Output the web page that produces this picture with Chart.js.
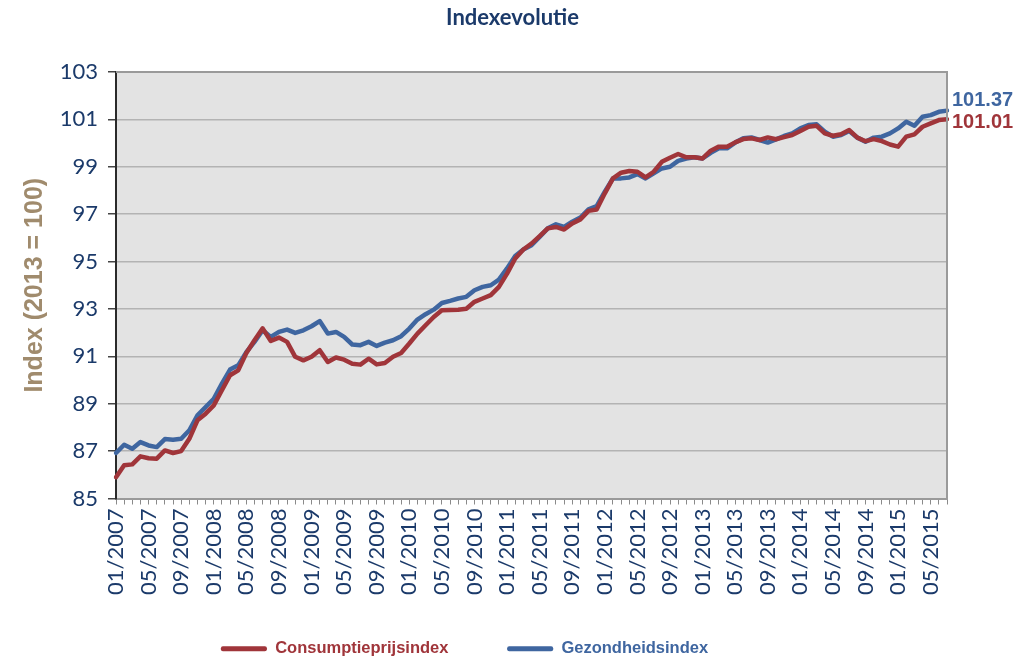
<!DOCTYPE html>
<html><head><meta charset="utf-8">
<script src="https://cdn.jsdelivr.net/npm/chart.js@4.4.1/dist/chart.umd.min.js"></script>
<style>html,body{margin:0;padding:0;background:#fff}#wrap{width:1024px;height:669px}</style>
</head><body><div id="wrap"><canvas id="c" width="1024" height="669"></canvas></div>
<script>
const months = [
'01/2007','02/2007','03/2007','04/2007','05/2007','06/2007','07/2007','08/2007','09/2007','10/2007','11/2007','12/2007',
'01/2008','02/2008','03/2008','04/2008','05/2008','06/2008','07/2008','08/2008','09/2008','10/2008','11/2008','12/2008',
'01/2009','02/2009','03/2009','04/2009','05/2009','06/2009','07/2009','08/2009','09/2009','10/2009','11/2009','12/2009',
'01/2010','02/2010','03/2010','04/2010','05/2010','06/2010','07/2010','08/2010','09/2010','10/2010','11/2010','12/2010',
'01/2011','02/2011','03/2011','04/2011','05/2011','06/2011','07/2011','08/2011','09/2011','10/2011','11/2011','12/2011',
'01/2012','02/2012','03/2012','04/2012','05/2012','06/2012','07/2012','08/2012','09/2012','10/2012','11/2012','12/2012',
'01/2013','02/2013','03/2013','04/2013','05/2013','06/2013','07/2013','08/2013','09/2013','10/2013','11/2013','12/2013',
'01/2014','02/2014','03/2014','04/2014','05/2014','06/2014','07/2014','08/2014','09/2014','10/2014','11/2014','12/2014',
'01/2015','02/2015','03/2015','04/2015','05/2015','06/2015','07/2015'];

const consumptieprijsindex = [
85.90,86.40,86.44,86.78,86.70,86.68,87.03,86.92,87.00,87.52,88.30,88.58,
88.93,89.57,90.20,90.41,91.14,91.68,92.18,91.65,91.79,91.61,90.98,90.83,
90.98,91.26,90.76,90.95,90.86,90.69,90.65,90.90,90.66,90.72,90.98,91.14,
91.54,91.96,92.31,92.66,92.94,92.96,92.97,93.01,93.30,93.44,93.58,93.93,
94.49,95.13,95.51,95.76,96.07,96.40,96.46,96.35,96.61,96.78,97.14,97.20,
97.88,98.51,98.75,98.82,98.79,98.55,98.79,99.21,99.38,99.54,99.40,99.40,
99.35,99.68,99.85,99.85,100.03,100.17,100.20,100.13,100.24,100.16,100.25,100.34,
100.51,100.69,100.73,100.41,100.31,100.37,100.55,100.23,100.08,100.17,100.08,99.94,
99.85,100.27,100.37,100.69,100.83,100.97,101.01];

const gezondheidsindex = [
86.92,87.27,87.10,87.38,87.24,87.17,87.51,87.48,87.52,87.88,88.51,88.86,
89.21,89.85,90.44,90.62,91.18,91.61,92.10,91.82,92.03,92.13,91.99,92.10,
92.27,92.49,91.96,92.03,91.82,91.50,91.47,91.61,91.44,91.58,91.68,91.85,
92.17,92.55,92.78,92.97,93.25,93.34,93.44,93.51,93.79,93.93,94.00,94.24,
94.71,95.23,95.51,95.69,96.04,96.40,96.57,96.46,96.68,96.86,97.20,97.34,
97.95,98.51,98.51,98.55,98.69,98.51,98.72,98.93,99.00,99.25,99.35,99.40,
99.35,99.59,99.78,99.78,100.02,100.20,100.24,100.13,100.02,100.16,100.30,100.41,
100.62,100.76,100.79,100.48,100.27,100.34,100.51,100.23,100.06,100.23,100.27,100.41,
100.62,100.90,100.73,101.11,101.18,101.32,101.37];

const seriesNames = ['Consumptieprijsindex','Gezondheidsindex'];
const endLabels = ['101.01','101.37'];
const yMin = 85, yMax = 103, yStep = 2;

const RED = '#a0353a', BLUE = '#3f66a0';
const NAVY = '#1b3a6a', TAN = '#a08b6d';

const bgPlugin = {
  id: 'plotBg',
  beforeDraw(chart) {
    const {ctx, chartArea: a} = chart;
    ctx.save();
    ctx.fillStyle = '#e3e3e3';
    ctx.fillRect(a.left, a.top, a.right - a.left, a.bottom - a.top);
    ctx.restore();
  },
  afterDraw(chart) {
    const {ctx, chartArea: a} = chart;
    ctx.save();
    ctx.strokeStyle = '#9a9a9a';
    ctx.lineWidth = 2;
    ctx.beginPath();
    ctx.moveTo(a.left, a.top); ctx.lineTo(a.right, a.top); ctx.lineTo(a.right, a.bottom);
    ctx.stroke();
    ctx.restore();
  }
};

const endLabelPlugin = {
  id: 'endLabels',
  afterDatasetsDraw(chart) {
    const {ctx, chartArea: a} = chart;
    const offs = [3, -10];
    ctx.save();
    ctx.font = 'bold 20px "Liberation Sans", Arial, sans-serif';
    ctx.textBaseline = 'middle';
    ctx.textAlign = 'left';
    chart.data.datasets.forEach((ds, i) => {
      const meta = chart.getDatasetMeta(i);
      const pt = meta.data[meta.data.length - 1];
      ctx.fillStyle = ds.borderColor;
      ctx.fillText(endLabels[i], a.right + 5, pt.y + offs[i]);
    });
    ctx.restore();
  }
};

const boxShift = {
  id: 'boxShift',
  afterLayout(chart) {
    if (chart.legend) { chart.legend.left -= 9; chart.legend.right -= 9; }
    if (chart.titleBlock) { chart.titleBlock.left += 39; chart.titleBlock.right += 39; }
  }
};

new Chart(document.getElementById('c'), {
  type: 'line',
  data: {
    labels: months,
    datasets: [
      {label: seriesNames[0], data: consumptieprijsindex, borderColor: RED, backgroundColor: RED,
       borderWidth: 4.5, pointRadius: 0, tension: 0, borderJoinStyle: 'round', borderCapStyle: 'round'},
      {label: seriesNames[1], data: gezondheidsindex, borderColor: BLUE, backgroundColor: BLUE,
       borderWidth: 4.5, pointRadius: 0, tension: 0, borderJoinStyle: 'round', borderCapStyle: 'round'}
    ]
  },
  options: {
    responsive: false,
    animation: false,
    devicePixelRatio: 1,
    layout: {padding: {left: 0, right: 77, top: 0, bottom: 2}},
    plugins: {
      title: {display: true, text: 'Indexevolutie', color: NAVY,
        font: {family: 'Lato, sans-serif', size: 22, weight: 'bold'},
        padding: {top: 5, bottom: 40.6}},
      legend: {
        position: 'bottom',
        labels: {
          boxWidth: 46, boxHeight: 5, padding: 45,
          font: {family: '"Liberation Sans", Arial, sans-serif', size: 16.5, weight: 'bold'},
          generateLabels(chart) {
            return chart.data.datasets.map((ds, i) => ({
              text: i === 0 ? ds.label + '   ' : ds.label,
              fillStyle: ds.borderColor, strokeStyle: ds.borderColor,
              lineWidth: 0, fontColor: ds.borderColor, borderRadius: 2, datasetIndex: i, hidden: false
            }));
          }
        }
      },
      tooltip: {enabled: false}
    },
    scales: {
      x: {
        type: 'category',
        offset: false,
        afterFit(s) { s.height = 97; },
        grid: {drawOnChartArea: false, tickLength: 6, color: '#8a8a8a', tickColor: '#8a8a8a', lineWidth: 1},
        border: {color: '#9a9a9a', width: 2},
        ticks: {
          autoSkip: false, maxRotation: 90, minRotation: 90, padding: 4,
          color: NAVY, font: {family: 'Lato', size: 22},
          callback(v, idx) { return idx % 4 === 0 ? months[idx] : ''; }
        }
      },
      y: {
        min: yMin, max: yMax,
        afterFit(s) { s.width = 116; },
        grid: {color: '#b3b3b3', lineWidth: 1.5, tickLength: 8, tickColor: '#444'},
        border: {color: '#2a2a2a', width: 2},
        ticks: {stepSize: yStep, padding: 10, color: NAVY, font: {family: 'Lato', size: 22}},
        title: {display: true, text: 'Index (2013 = 100)', color: TAN,
          font: {family: '"Liberation Sans", Arial, sans-serif', size: 25, weight: 'bold'},
          padding: {top: 20, bottom: 0}}
      }
    }
  },
  plugins: [bgPlugin, endLabelPlugin, boxShift]
});
</script>
</body></html>
